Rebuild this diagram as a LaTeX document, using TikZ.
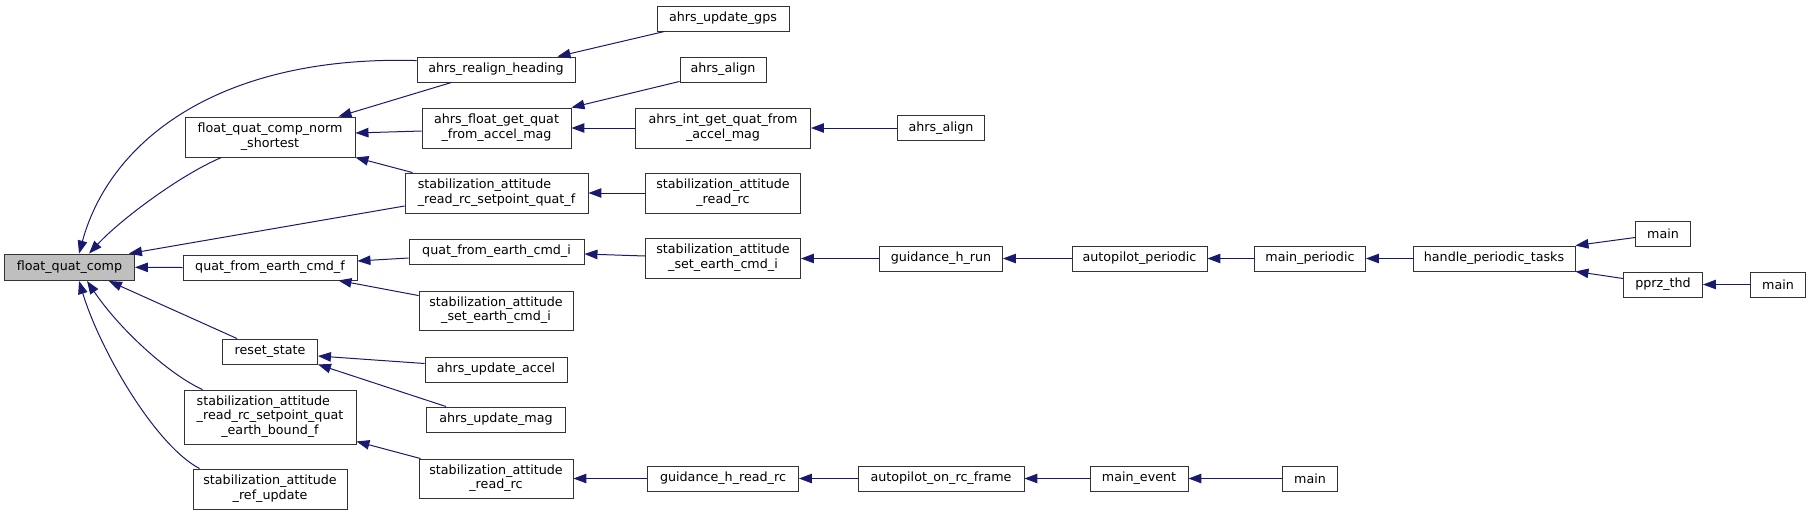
\documentclass[tikz,border=0pt]{standalone}
\usepackage{fontspec}
\setmainfont{DejaVu Sans}
\usetikzlibrary{arrows.meta,calc}
\definecolor{edgeblue}{HTML}{191970}
\definecolor{boxgray}{HTML}{BFBFBF}
\newcommand\twoline[2]{\begin{tabular}{@{}l@{}}#1\\\multicolumn{1}{@{}c@{}}{#2}\end{tabular}}
\newcommand\threeline[3]{\begin{tabular}{@{}l@{}}#1\\#2\\\multicolumn{1}{@{}c@{}}{#3}\end{tabular}}
\begin{document}
\begin{tikzpicture}[x=1pt,y=-1pt,
  fn/.style={draw=black!80,line width=0.9pt,fill=white,inner sep=0pt,font=\fontsize{12.7}{14.7}\selectfont},
  sz/.style 2 args={minimum width=#1pt,minimum height=#2pt},
  call/.style={draw=edgeblue,line width=1pt,-{Triangle[length=13pt,width=9.5pt]}}]
\useasboundingbox (0,0) rectangle (1811,515);
\node[fn,fill=boxgray,sz={130}{26.5}] (fqc) at (69.5,267.3) {float\_quat\_comp};
\node[fn,sz={170}{40}] (fqcns) at (270,137) {\twoline{float\_quat\_comp\_norm}{\_shortest}};
\node[fn,sz={158}{25}] (arh) at (496,69.5) {ahrs\_realign\_heading};
\node[fn,sz={149}{40}] (afgq) at (496.5,128) {\twoline{ahrs\_float\_get\_quat}{\_from\_accel\_mag}};
\node[fn,sz={183}{40}] (srsqf) at (496.5,193) {\twoline{stabilization\_attitude}{\_read\_rc\_setpoint\_quat\_f}};
\node[fn,sz={175}{25}] (qfeci) at (496.5,251.5) {quat\_from\_earth\_cmd\_i};
\node[fn,sz={174}{25}] (qfecf) at (270,267.5) {quat\_from\_earth\_cmd\_f};
\node[fn,sz={154}{39}] (saseci2) at (496,310.5) {\twoline{stabilization\_attitude}{\_set\_earth\_cmd\_i}};
\node[fn,sz={95}{25}] (rs) at (270,351.5) {reset\_state};
\node[fn,sz={142}{25}] (aua) at (496,369.5) {ahrs\_update\_accel};
\node[fn,sz={172}{54}] (srsqeb) at (270,417) {\threeline{stabilization\_attitude}{\_read\_rc\_setpoint\_quat}{\_earth\_bound\_f}};
\node[fn,sz={139}{25}] (aum) at (496,419.5) {ahrs\_update\_mag};
\node[fn,sz={154}{39}] (srr2) at (496,478.5) {\twoline{stabilization\_attitude}{\_read\_rc}};
\node[fn,sz={154}{40}] (sru) at (270,489) {\twoline{stabilization\_attitude}{\_ref\_update}};
\node[fn,sz={132}{25}] (aug) at (723,18.5) {ahrs\_update\_gps};
\node[fn,sz={86}{25}] (aa1) at (723,69.5) {ahrs\_align};
\node[fn,sz={175}{40}] (aigq) at (723,128) {\twoline{ahrs\_int\_get\_quat\_from}{\_accel\_mag}};
\node[fn,sz={87}{25}] (aa2) at (941,128) {ahrs\_align};
\node[fn,sz={155}{40}] (srr1) at (723,193) {\twoline{stabilization\_attitude}{\_read\_rc}};
\node[fn,sz={155}{40}] (saseci1) at (723,258) {\twoline{stabilization\_attitude}{\_set\_earth\_cmd\_i}};
\node[fn,sz={123}{25}] (ghr) at (941,258.5) {guidance\_h\_run};
\node[fn,sz={135}{25}] (ap) at (1139.5,258.5) {autopilot\_periodic};
\node[fn,sz={111}{25}] (mp) at (1310,258.5) {main\_periodic};
\node[fn,sz={162}{25}] (hpt) at (1494,258.5) {handle\_periodic\_tasks};
\node[fn,sz={55}{25}] (m1) at (1663,233.5) {main};
\node[fn,sz={79}{25}] (pt) at (1663,284.5) {pprz\_thd};
\node[fn,sz={55}{25}] (m2) at (1778,284.5) {main};
\node[fn,sz={151}{25}] (ghrr) at (723,478.5) {guidance\_h\_read\_rc};
\node[fn,sz={166}{25}] (aorf) at (941,478.5) {autopilot\_on\_rc\_frame};
\node[fn,sz={98}{25}] (me) at (1139,478.5) {main\_event};
\node[fn,sz={55}{25}] (m3) at (1310,478.5) {main};
% edges into float_quat_comp
\draw[call] ($(arh.north west)+(0,4)$) .. controls (220,55) and (110,140) .. ($(fqc.north west)+(75,0)$);
\draw[call] ($(fqcns.south west)+(37,0)$) .. controls (180,175) and (120,220) .. ($(fqc.north west)+(85,0)$);
\draw[call] ($(srsqf.west)+(0,13)$) -- ($(fqc.north east)+(-6,0)$);
\draw[call] (qfecf.west) -- (fqc.east);
\draw[call] ($(rs.north west)+(15,0)$) -- ($(fqc.south east)+(-26,0)$);
\draw[call] ($(srsqeb.north west)+(19,0)$) .. controls (170,375) and (120,330) .. ($(fqc.south west)+(83,0)$);
\draw[call] ($(sru.north west)+(7,0)$) .. controls (155,445) and (100,350) .. ($(fqc.south west)+(75,0)$);
% float_quat_comp_norm_shortest
\draw[call] ($(arh.south west)+(35,0)$) -- ($(fqcns.north east)+(-17,0)$);
\draw[call] ($(afgq.west)+(0,3)$) -- ($(fqcns.east)+(0,-4)$);
\draw[call] ($(srsqf.north west)+(8,0)$) -- (fqcns.south east);
% column 2
\draw[call] ($(aug.south west)+(8,0)$) -- ($(arh.north east)+(-18,0)$);
\draw[call] ($(aa1.south west)+(0,-1)$) -- (afgq.north east);
\draw[call] (aigq.west) -- (afgq.east);
\draw[call] (aa2.west) -- (aigq.east);
\draw[call] (srr1.west) -- (srsqf.east);
\draw[call] ($(qfeci.west)+(0,6.5)$) -- ($(qfecf.east)+(0,-6.5)$);
\draw[call] ($(saseci2.north west)+(0,5)$) -- ($(qfecf.south east)+(-19,0)$);
\draw[call] ($(saseci1.west)+(0,-2)$) -- ($(qfeci.east)+(0,2.5)$);
\draw[call] (ghr.west) -- (saseci1.east |- ghr.west);
\draw[call] (ap.west) -- (ghr.east);
\draw[call] (mp.west) -- (ap.east);
\draw[call] (hpt.west) -- (mp.east);
\draw[call] ($(m1.west)+(0,4)$) -- (hpt.north east);
\draw[call] ($(pt.west)+(0,-6)$) -- (hpt.south east);
\draw[call] (m2.west) -- (pt.east);
\draw[call] ($(aua.west)+(0,-6)$) -- ($(rs.east)+(0,4.5)$);
\draw[call] ($(aum.north west)+(20,0)$) -- (rs.south east);
\draw[call] ($(srr2.north west)+(2,0)$) -- ($(srsqeb.south east)+(0,-3)$);
\draw[call] (ghrr.west) -- (srr2.east);
\draw[call] (aorf.west) -- (ghrr.east);
\draw[call] (me.west) -- (aorf.east);
\draw[call] (m3.west) -- (me.east);
\end{tikzpicture}
\end{document}
